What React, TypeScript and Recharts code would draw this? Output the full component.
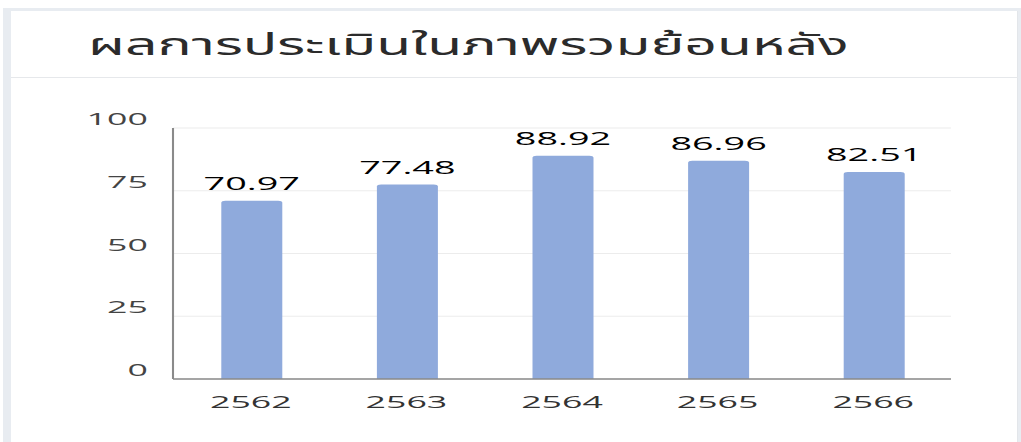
import { Bar, BarChart, CartesianGrid, LabelList, XAxis, YAxis } from "recharts";

// ผลการประเมินในภาพรวมย้อนหลัง: คะแนนรายปี (พ.ศ.)
const years = ["2562", "2563", "2564", "2565", "2566"];
const scores = [70.97, 77.48, 88.92, 86.96, 82.51];
const yTicks = [0, 25, 50, 75, 100];

const data = years.map((y, i) => ({ year: y, score: scores[i] }));

// the reference is stretched sideways, so the chart is drawn narrow and widened
const K = 2.1;
const FONT = "'Open Sans', 'Noto Sans Thai', 'Loma', sans-serif";

export default function App() {
  return (
    <div style={{ position: "fixed", left: 0, top: 0, width: 1021, height: 442, background: "#fff", overflow: "hidden", fontFamily: FONT }}>
      <div style={{ position: "absolute", left: 3, top: 8, width: 1018, height: 434, background: "#e8ecf1" }} />
      <div style={{ position: "absolute", left: 11, top: 11, width: 1006, height: 431, background: "#fff", borderRight: "1px solid #e3e6ea" }} />
      <div style={{ position: "absolute", left: 11, top: 77, width: 1007, height: 1, background: "#e6e8eb" }} />
      <div
        style={{
          position: "absolute",
          left: 88,
          top: 22,
          fontSize: 31,
          color: "#2b2b2b",
          whiteSpace: "nowrap",
          transform: "scaleX(1.84)",
          transformOrigin: "0 0",
        }}
      >
        ผลการประเมินในภาพรวมย้อนหลัง
      </div>
      <div style={{ position: "absolute", left: 1, top: 0, transform: `scaleX(${K})`, transformOrigin: "0 0" }}>
        <BarChart
          width={486}
          height={442}
          data={data}
          margin={{ top: 128, right: 486 - 950 / K, bottom: 33, left: 0 }}
        >
          <CartesianGrid vertical={false} stroke="#ececec" />
          <XAxis
            dataKey="year"
            axisLine={{ stroke: "#8a8a8a", strokeWidth: 1.5 }}
            tickLine={false}
            tickMargin={11}
            height={30}
            tick={{ fontSize: 17, fill: "#333", fontFamily: FONT }}
          />
          <YAxis
            width={172 / K}
            domain={[0, 100]}
            ticks={yTicks}
            axisLine={{ stroke: "#8a8a8a", strokeWidth: 1 }}
            tickLine={false}
            tickMargin={6}
            tick={{ fontSize: 17, fill: "#444", fontFamily: FONT, dy: -9 }}
          />
          <Bar dataKey="score" fill="#8faadc" barSize={61 / K} radius={[2, 2, 0, 0]} isAnimationActive={false}>
            <LabelList dataKey="score" position="top" offset={11} style={{ fontSize: 18, fill: "#000", fontFamily: FONT }} />
          </Bar>
        </BarChart>
      </div>
    </div>
  );
}
